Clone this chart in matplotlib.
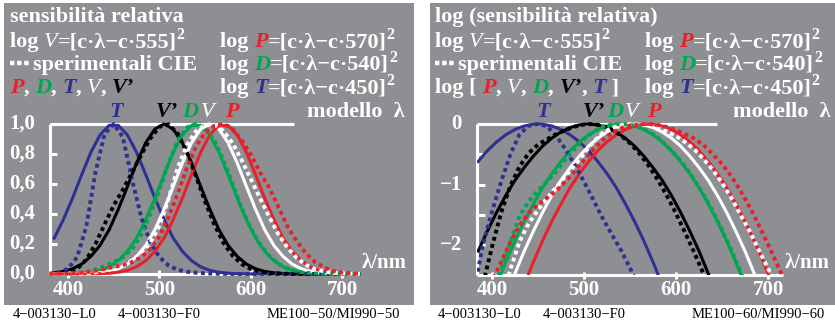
import numpy as np
import matplotlib
matplotlib.use("Agg")
import matplotlib.pyplot as plt
from matplotlib.patches import Rectangle

W, H = 835, 324
GRAY = "#8e8f93"
RED = "#e8202a"
GREEN = "#00a651"
BLUE = "#2e3192"
FONT = "Liberation Serif"

# model curves (solid), log10 of relative sensitivity
wl_model = list(range(385, 720, 10))
log_P_model = [-5.00, -4.47, -3.97, -3.51, -3.07, -2.66, -2.28, -1.93, -1.61, -1.32, -1.05, -0.82,
               -0.62, -0.44, -0.296, -0.179, -0.091, -0.033, -0.004, -0.004, -0.033, -0.091, -0.179,
               -0.296, -0.44, -0.62, -0.82, -1.05, -1.32, -1.61, -1.93, -2.28, -2.66, -3.07]
log_D_model = [-3.51, -3.07, -2.66, -2.28, -1.93, -1.61, -1.32, -1.05, -0.82, -0.62, -0.44, -0.296,
               -0.179, -0.091, -0.033, -0.004, -0.004, -0.033, -0.091, -0.179, -0.296, -0.44, -0.62,
               -0.82, -1.05, -1.32, -1.61, -1.93, -2.28, -2.66, -3.07, -3.51, -3.97, -4.47]
log_T_model = [-0.62, -0.44, -0.296, -0.179, -0.091, -0.033, -0.004, -0.004, -0.033, -0.091, -0.179,
               -0.296, -0.44, -0.62, -0.82, -1.05, -1.32, -1.61, -1.93, -2.28, -2.66, -3.07, -3.51,
               -3.97, -4.47, -5.00, -5.55, -6.14, -6.75, -7.39, -8.06, -8.76, -9.49, -10.25]
log_V_model = [-4.22, -3.74, -3.29, -2.86, -2.47, -2.10, -1.77, -1.46, -1.18, -0.93, -0.72, -0.53,
               -0.365, -0.234, -0.131, -0.058, -0.015, 0.0, -0.015, -0.058, -0.131, -0.234, -0.365,
               -0.53, -0.72, -0.93, -1.18, -1.46, -1.77, -2.10, -2.47, -2.86, -3.29, -3.74]
log_Vs_model = [-2.10, -1.77, -1.46, -1.18, -0.93, -0.72, -0.53, -0.365, -0.234, -0.131, -0.058, -0.015,
                0.0, -0.015, -0.058, -0.131, -0.234, -0.365, -0.53, -0.72, -0.93, -1.18, -1.46, -1.77,
                -2.10, -2.47, -2.86, -3.29, -3.74, -4.22, -4.73, -5.27, -5.84, -6.44]

# CIE experimental curves (dotted), log10
wl_cie = list(range(380, 730, 10))
log_P_cie = [-3.2, -2.9, -2.6, -2.28, -1.95, -1.68, -1.47, -1.33, -1.22, -1.1, -0.95, -0.78, -0.6,
             -0.42, -0.27, -0.15, -0.07, -0.025, -0.005, 0.0, -0.015, -0.05, -0.1, -0.17, -0.24,
             -0.35, -0.5, -0.66, -0.86, -1.1, -1.37, -1.67, -1.99, -2.32, -2.65]
log_D_cie = [-3.1, -2.95, -2.75, -2.4, -1.95, -1.52, -1.28, -1.1, -0.95, -0.78, -0.58, -0.4, -0.25,
             -0.13, -0.05, -0.01, 0.0, -0.01, -0.05, -0.12, -0.22, -0.36, -0.52, -0.7, -0.92, -1.17,
             -1.44, -1.75, -2.08, -2.44, -2.82, -3.2, -3.6, -4.0, -4.4]
log_T_cie = [-2.8, -2.0, -1.45, -0.95, -0.5, -0.17, -0.03, 0.0, -0.04, -0.2, -0.42, -0.68, -0.95,
             -1.25, -1.55, -1.82, -2.08, -2.38, -2.7, -3.0, -3.3, -3.6, -3.9, -4.2, -4.5, -4.8, -5.1,
             -5.4, -5.7, -6.0, -6.3, -6.6, -6.9, -7.2, -7.5]
log_V_cie = [-4.41, -3.92, -3.40, -2.92, -2.40, -1.94, -1.64, -1.42, -1.22, -1.04, -0.857, -0.682,
             -0.491, -0.298, -0.149, -0.065, -0.021, -0.002, -0.002, -0.021, -0.060, -0.121, -0.200,
             -0.298, -0.419, -0.577, -0.757, -0.971, -1.215, -1.495, -1.770, -2.086, -2.387, -2.680,
             -2.980]
log_Vs_cie = [-3.23, -2.66, -2.03, -1.46, -1.02, -0.70, -0.48, -0.34, -0.25, -0.17, -0.10, -0.044,
              -0.008, -0.001, -0.029, -0.091, -0.187, -0.318, -0.483, -0.683, -0.917, -1.184, -1.48,
              -1.80, -2.13, -2.48, -2.82, -3.17, -3.50, -3.83, -4.15, -4.45, -4.75, -5.05, -5.30]

curves = [  # (model, cie, color)
    (log_T_model, log_T_cie, BLUE),
    (log_Vs_model, log_Vs_cie, "black"),
    (log_D_model, log_D_cie, GREEN),
    (log_V_model, log_V_cie, "white"),
    (log_P_model, log_P_cie, RED),
]

fig = plt.figure(figsize=(W / 100, H / 100), dpi=100)
fig.patch.set_facecolor("white")

# pixel layer: gray panels + header text
bg = fig.add_axes([0, 0, 1, 1])
bg.set_xlim(0, W)
bg.set_ylim(H, 0)
bg.axis("off")
bg.add_patch(Rectangle((4, 3), 410, 302, color=GRAY, lw=0))
bg.add_patch(Rectangle((430, 3), 405, 302, color=GRAY, lw=0))


def wb(s):
    return (s, "white", "normal", "bold", 16, 0)


def it(s, color, weight="bold"):
    return (s, color, "italic", weight, 16, 0)


SQ = ("2", "white", "normal", "bold", 11.5, 6.5)


def rich_text(x, y, parts):
    t = None
    for s, color, style, weight, size, rise in parts:
        kw = dict(color=color, fontstyle=style, fontweight=weight, fontsize=size, family=FONT)
        if t is None:
            t = bg.text(x, y, s, va="baseline", ha="left", **kw)
        else:
            t = bg.annotate(s, xy=(1, 0), xycoords=t, xytext=(0, rise),
                            textcoords="offset points", va="bottom", ha="left", **kw)
    return t


def header(x0, x1, title, list_parts, label_x):
    rich_text(x0, 22, [wb(title)])
    rich_text(x0, 47, [wb("log "), it("V", "white", "normal"), wb("=[c·λ−c·555]"), SQ])
    rich_text(x1, 47, [wb("log "), it("P", RED), wb("=[c·λ−c·570]"), SQ])
    bg.plot([x0, x0 + 19], [63, 63], color="white", lw=3.2, dashes=(1, 0.6), dash_capstyle="butt")
    rich_text(x0 + 23, 70, [wb("sperimentali CIE")])
    rich_text(x1, 70, [wb("log "), it("D", GREEN), wb("=[c·λ−c·540]"), SQ])
    rich_text(x0, 93, list_parts)
    rich_text(x1, 93, [wb("log "), it("T", BLUE), wb("=[c·λ−c·450]"), SQ])
    for (s, color, weight), lx in zip([("T", BLUE, "bold"), ("V’", "black", "bold"), ("D", GREEN, "bold"),
                                       ("V", "white", "normal"), ("P", RED, "bold")], label_x[:5]):
        bg.text(lx, 117, s, color=color, fontstyle="italic", fontweight=weight, fontsize=16,
                family=FONT, ha="center", va="baseline")
    bg.text(label_x[5], 117, "modello  λ", color="white", fontweight="bold", fontsize=16,
            family=FONT, ha="left", va="baseline")


header(10, 220, "sensibilità relativa",
       [it("P", RED), wb(", "), it("D", GREEN), wb(", "), it("T", BLUE), wb(", "),
        it("V", "white", "normal"), wb(", "), it("V’", "black")],
       [116, 167, 190, 208, 232, 307])
header(435, 645, "log (sensibilità relativa)",
       [wb("log [ "), it("P", RED), wb(", "), it("V", "white", "normal"), wb(", "), it("D", GREEN),
        wb(", "), it("V’", "black"), wb(", "), it("T", BLUE), wb(" ]")],
       [543, 594, 615, 632, 654, 733])

for x, s in [(13, "4−003130−L0"), (118, "4−003130−F0"), (267, "ME100−50/MI990−50"),
             (438, "4−003130−L0"), (543, "4−003130−F0"), (692, "ME100−60/MI990−60")]:
    bg.text(x, 314, s, fontsize=10.5, family=FONT, color="black", va="center", ha="left")

tick_kw = dict(color="white", fontweight="bold", fontsize=15, family=FONT)
axis_kw = dict(color="white", lw=2.2, clip_on=False, solid_capstyle="butt")

# left panel: linear
ax1 = fig.add_axes([45.1 / W, (H - 289) / H, 320.25 / W, 180 / H])
ax1.set_xlim(375, 725)
ax1.set_ylim(-0.1, 1.1)
ax1.axis("off")
x0 = 380.3
ax1.plot([x0, x0], [0, 1], **axis_kw)
ax1.plot([x0, 717], [0, 0], **axis_kw)
ax1.plot([x0, 647], [1, 1], **axis_kw)
for v in [0.2, 0.4, 0.6, 0.8]:
    ax1.plot([x0, 388], [v, v], **axis_kw)
for v, s in zip([0, 0.2, 0.4, 0.6, 0.8, 1.0], ["0,0", "0,2", "0,4", "0,6", "0,8", "1,0"]):
    ax1.text(364, v, s, ha="right", va="center", **tick_kw)
for wl in [400, 500, 600, 700]:
    ax1.plot([wl, wl], [-0.025, 0.025], **axis_kw)
    ax1.text(wl, -0.107, str(wl), ha="center", va="center", **tick_kw)
ax1.text(721, 0.04, "λ/nm", ha="left", va="baseline", color="white", fontweight="bold",
         fontsize=15, family=FONT)

for model, cie, color in curves:
    ax1.plot(wl_model, 10 ** np.array(model), color=color, lw=2.2)
for model, cie, color in curves:
    ax1.plot(wl_cie, 10 ** np.array(cie), color=color, lw=2.8, dashes=(1, 0.9), dash_capstyle="butt")

# right panel: log
ax2 = fig.add_axes([477.0 / W, (H - 275.25) / H, 314 / W, 166.375 / H])
ax2.set_xlim(383.7, 725)
ax2.set_ylim(-2.5, 0.25)
ax2.axis("off")
x0 = 383.7
ax2.plot([x0, x0], [-2.5, 0], **axis_kw)
ax2.plot([x0, 716], [-2.5, -2.5], **axis_kw)
ax2.plot([x0, 645], [0, 0], **axis_kw)
for v in [-0.5, -1, -1.5, -2]:
    ax2.plot([x0, 392], [v, v], **axis_kw)
for v, s in zip([0, -1, -2], ["0", "−1", "−2"]):
    ax2.text(367.4, v, s, ha="right", va="center", **tick_kw)
for wl in [400, 500, 600, 700]:
    ax2.plot([wl, wl], [-2.56, -2.44], **axis_kw)
    ax2.text(wl, -2.744, str(wl), ha="center", va="center", **tick_kw)
ax2.text(718.5, -2.38, "λ/nm", ha="left", va="baseline", color="white", fontweight="bold",
         fontsize=15, family=FONT)

for model, cie, color in curves:
    ax2.plot(wl_model, model, color=color, lw=2.2)
for model, cie, color in curves:
    ax2.plot(wl_cie, cie, color=color, lw=2.8, dashes=(1, 0.9), dash_capstyle="butt")

fig.savefig("out.png", dpi=100)
